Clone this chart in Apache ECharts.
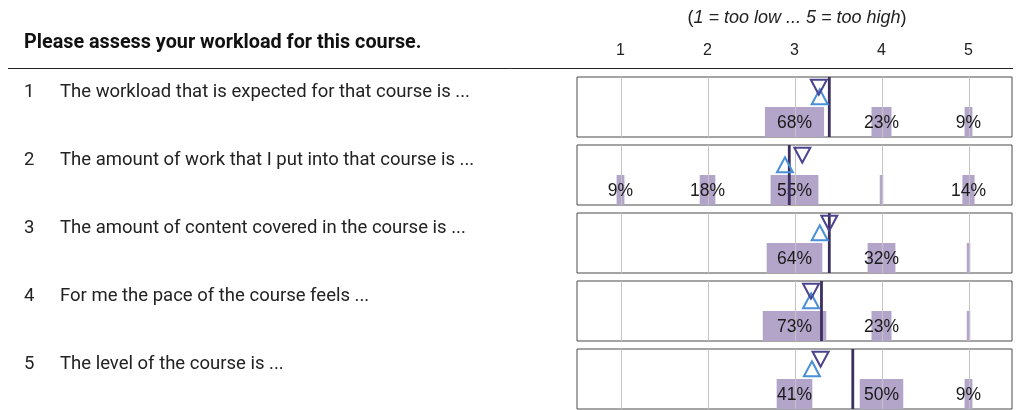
<!DOCTYPE html>
<html>
<head>
<meta charset="utf-8">
<script src="https://cdn.jsdelivr.net/npm/echarts@6/dist/echarts.min.js"></script>
<style>html,body{margin:0;padding:0;background:#fff}#c{width:1022px;height:410px}</style>
</head>
<body>
<div id="c"></div>
<script>
const title = 'Please assess your workload for this course.';
const scaleNote = '1 = too low ... 5 = too high';
const scalePoints = [1, 2, 3, 4, 5];
const questions = [
  'The workload that is expected for that course is ...',
  'The amount of work that I put into that course is ...',
  'The amount of content covered in the course is ...',
  'For me the pace of the course feels ...',
  'The level of the course is ...'
];
const pct1 = [0, 0, 68, 23, 9];
const pct2 = [9, 18, 55, 4, 14];
const pct3 = [0, 0, 64, 32, 4];
const pct4 = [0, 0, 73, 23, 4];
const pct5 = [0, 0, 41, 50, 9];
const percents = [pct1, pct2, pct3, pct4, pct5];
const means = [3.40, 2.94, 3.40, 3.31, 3.67];
const downMarks = [3.28, 3.09, 3.40, 3.19, 3.30];
const upMarks = [3.29, 2.89, 3.29, 3.19, 3.20];

const chart = echarts.init(document.getElementById('c'), null, {renderer: 'canvas'});
const tops = [77, 145, 213, 281, 349];
const PANEL_H = 60, LEFT = 577, WIDTH = 435;
const BAR_COLOR = '#b3a4c9';
const grids = [], xAxes = [], yAxes = [], series = [], graphics = [];

tops.forEach((t, i) => {
  grids.push({left: LEFT, top: t, width: WIDTH, height: PANEL_H, show: true,
    borderColor: '#4a4a4a', borderWidth: 1, backgroundColor: '#fff'});
  xAxes.push({
    gridIndex: i, type: 'value', min: 0.5, max: 5.5, interval: 0.5,
    position: 'top',
    axisLine: {show: false}, axisTick: {show: false}, splitLine: {show: false},
    axisLabel: {
      show: i === 0, margin: 18, fontSize: 16, color: '#222', fontFamily: 'Liberation Sans',
      showMinLabel: false, showMaxLabel: false,
      formatter: v => (scalePoints.indexOf(v) >= 0 ? String(v) : '')
    }
  });
  yAxes.push({gridIndex: i, type: 'value', min: 0, max: 1, show: false});

  const barData = percents[i].map((p, k) => [scalePoints[k], p]);
  // bars
  series.push({
    type: 'custom', xAxisIndex: i, yAxisIndex: i, z: 1, silent: true,
    data: barData,
    renderItem: (params, api) => {
      const v = api.value(0), p = api.value(1);
      if (!p) return null;
      const a = api.coord([v - p / 200, 0]);
      const b = api.coord([v + p / 200, 0.5]);
      return {type: 'rect', shape: {x: a[0], y: b[1], width: b[0] - a[0], height: a[1] - b[1]},
        style: {fill: BAR_COLOR}};
    }
  });
  // grid lines
  series.push({
    type: 'custom', xAxisIndex: i, yAxisIndex: i, z: 2, silent: true,
    data: scalePoints.map(v => [v]),
    renderItem: (params, api) => {
      const a = api.coord([api.value(0), 0]);
      const b = api.coord([api.value(0), 1]);
      const x = Math.round(a[0]) + 0.5;
      return {type: 'line', shape: {x1: x, y1: a[1], x2: x, y2: b[1]},
        style: {stroke: '#c4c4c4', lineWidth: 1}};
    }
  });
  // labels
  series.push({
    type: 'custom', xAxisIndex: i, yAxisIndex: i, z: 3, silent: true,
    data: barData,
    renderItem: (params, api) => {
      const v = api.value(0), p = api.value(1);
      if (p < 5) return null;
      const c = api.coord([v, 0.25]);
      return {type: 'text', x: c[0], y: c[1] + 1,
        style: {text: p + '%', align: 'center', verticalAlign: 'middle',
          font: '17.5px "Liberation Sans", Arial, sans-serif', fill: '#1a1a1a'}};
    }
  });
  // mean line
  series.push({
    type: 'custom', xAxisIndex: i, yAxisIndex: i, z: 4, silent: true,
    data: [[means[i]]],
    renderItem: (params, api) => {
      const a = api.coord([api.value(0), 0]);
      const b = api.coord([api.value(0), 1]);
      return {type: 'line', shape: {x1: a[0], y1: a[1], x2: a[0], y2: b[1]},
        style: {stroke: '#3b2f5e', lineWidth: 2.8}};
    }
  });
  // triangles
  series.push({
    type: 'scatter', xAxisIndex: i, yAxisIndex: i, z: 5, silent: true,
    symbol: 'triangle', symbolSize: [16, 15],
    data: [[upMarks[i], 0.67]],
    itemStyle: {color: 'rgba(0,0,0,0)', borderColor: '#4a8fd8', borderWidth: 2, opacity: 1}
  });
  series.push({
    type: 'scatter', xAxisIndex: i, yAxisIndex: i, z: 6, silent: true,
    symbol: 'triangle', symbolRotate: 180, symbolSize: [16, 15],
    data: [[downMarks[i], 0.83]],
    itemStyle: {color: 'rgba(0,0,0,0)', borderColor: '#4b4590', borderWidth: 2, opacity: 1}
  });

  graphics.push({type: 'text', left: 24, top: t + 6,
    style: {text: String(i + 1), font: '18.5px Roboto', fill: '#222'}});
  graphics.push({type: 'text', left: 60, top: t + 6,
    style: {text: questions[i], font: '18.5px Roboto', fill: '#222'}});
});

graphics.push({type: 'text', left: 24, top: 33,
  style: {text: title, font: 'bold 19.8px Roboto', fill: '#111'}});
graphics.push({type: 'line', shape: {x1: 8, y1: 68.5, x2: 1013, y2: 68.5},
  style: {stroke: '#222', lineWidth: 1}});
graphics.push({type: 'text', x: 797, y: 18,
  style: {text: '{p|(}{i|' + scaleNote + '}{p|)}', align: 'center', verticalAlign: 'middle',
    rich: {p: {font: '18px "Liberation Sans"', fill: '#222'},
           i: {font: 'italic 18px "Liberation Sans"', fill: '#222'}}}});

chart.setOption({
  animation: false,
  grid: grids, xAxis: xAxes, yAxis: yAxes, series: series, graphic: graphics
});
</script>
</body>
</html>
